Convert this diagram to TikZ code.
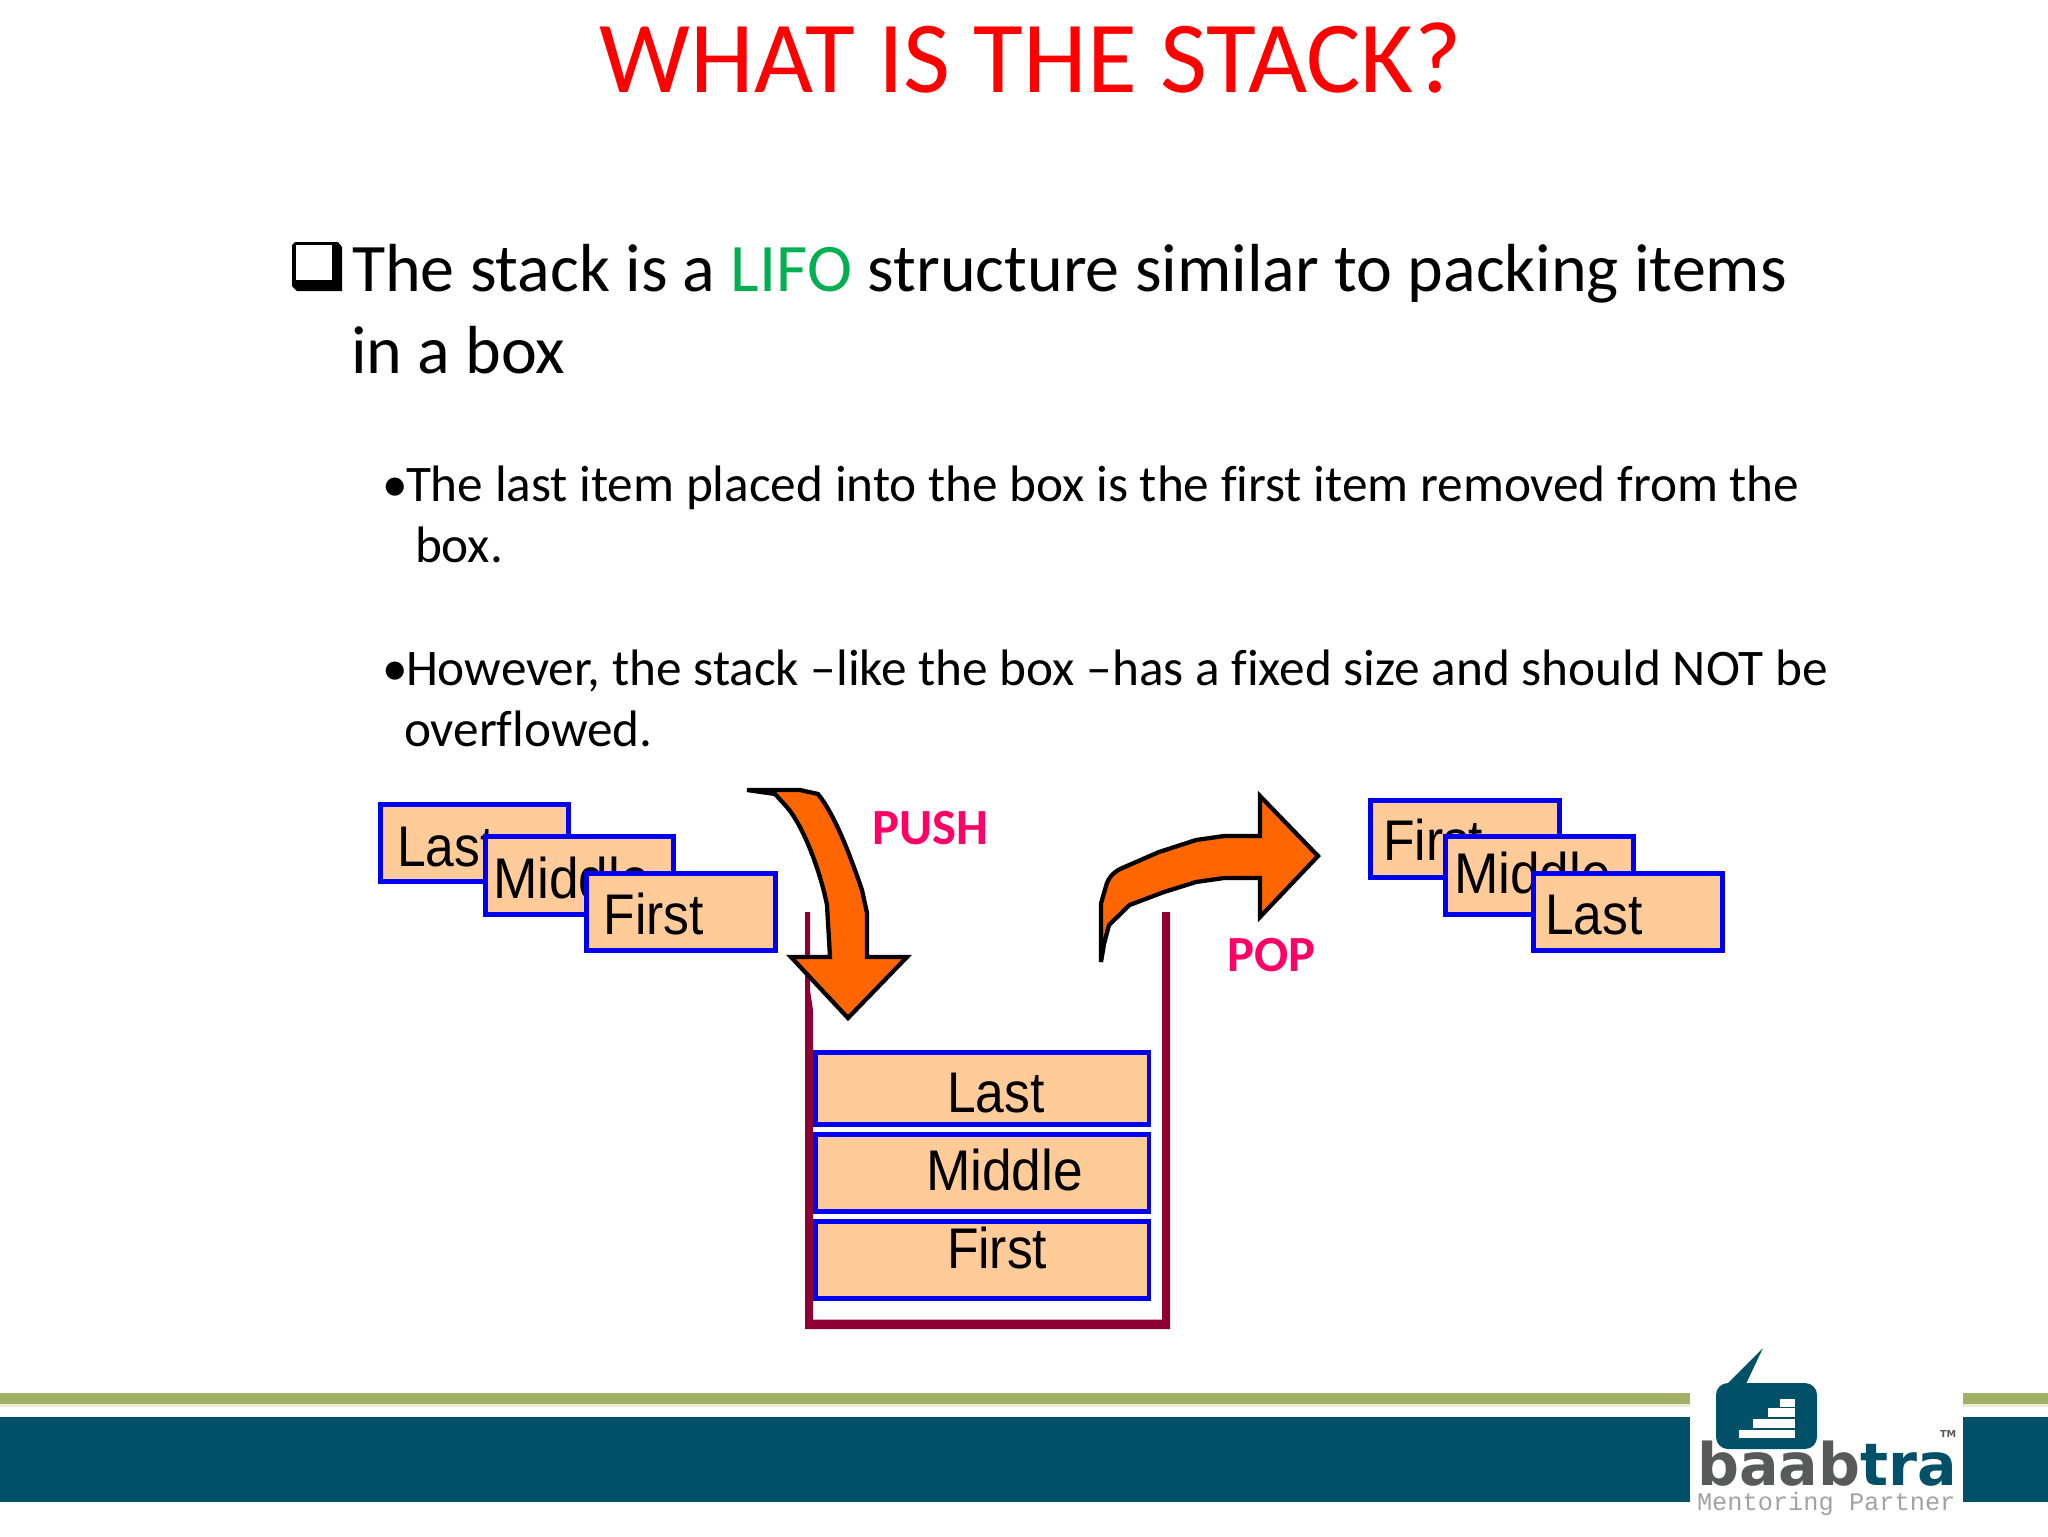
\documentclass[tikz,border=0pt]{standalone}
\usepackage{fontspec}
\setmainfont[Ligatures=NoCommon]{Carlito}
\newfontfamily\boxfont{Liberation Sans}
\newfontfamily\logofont{DejaVu Sans}
\newfontfamily\logomono{Liberation Mono}
\definecolor{titlered}{HTML}{FF0000}
\definecolor{lifogreen}{HTML}{00B050}
\definecolor{labelpink}{HTML}{FF0066}
\definecolor{itemfill}{HTML}{FFCC99}
\definecolor{itemblue}{HTML}{0000F0}
\definecolor{wallred}{HTML}{8E0033}
\definecolor{arroworange}{HTML}{FF6600}
\definecolor{bandgreen}{HTML}{A0B166}
\definecolor{bandpale}{HTML}{E9ECCF}
\definecolor{bandteal}{HTML}{005068}
\definecolor{logogrey}{HTML}{58595B}
\definecolor{mentorgrey}{HTML}{A3A3A3}
\tikzset{
  plain/.style={inner sep=0pt,outer sep=0pt,anchor=base west},
  titletext/.style={plain,anchor=base,text=titlered,font=\fontsize{38.3}{42}\selectfont},
  bodybig/.style={plain,font=\fontsize{25.5}{28}\selectfont},
  bodysmall/.style={plain,font=\fontsize{19.23}{24}\selectfont},
  pushpop/.style={plain,anchor=base,text=labelpink,font=\bfseries\fontsize{19}{20}\selectfont},
  itembox/.style={draw=itemblue,fill=itemfill,line width=1.8pt,inner sep=0pt,outer sep=0pt,minimum width=70.7pt,minimum height=29pt},
  stackbox/.style={itembox,minimum width=125.1pt,minimum height=29pt},
  itemtext/.style={plain,font=\boxfont\fontsize{21.5}{24}\selectfont},
  bigarrow/.style={draw=black,fill=arroworange,line width=1.6pt,line join=miter},
}
\newcommand{\itemlabel}[1]{\scalebox{0.9}[1]{#1}}
\newcommand{\itemwide}[1]{\scalebox{0.93}[1]{#1}}
\begin{document}
\begin{tikzpicture}[x=0.375pt,y=-0.375pt]
\useasboundingbox (0,0) rectangle (2048,1536);
\fill[white] (0,0) rectangle (2048,1536);

% title and text
\node[titletext] (title) at (1030.5,92) {WHAT IS THE STACK?};

\fill[black] (292,245) -- (295,242) -- (338,242) -- (342,247) -- (342,291) -- (297,291) -- (292,286) -- cycle;
\fill[white] (296,245) rectangle (332,280);
\node[bodybig] (l1a) at (352,291) {The stack is a \textcolor{lifogreen}{LIFO} structure similar to packing items};
\node[bodybig] (l1b) at (351,373) {in a box};

\node[bodysmall,anchor=base east] (b2) at (408,501) {•};
\node[bodysmall] (l2a) at (406,501) {The last item placed into the box is the first item removed from the};
\node[bodysmall] (l2b) at (415,562) {box.};
\node[bodysmall,anchor=base east] (b3) at (408,685) {•};
\node[bodysmall] (l3a) at (406,685) {However, the stack –like the box –has a fixed size and should NOT be};
\node[bodysmall] (l3b) at (404,746) {overflowed.};

% stack walls
\fill[wallred] (805,912) -- (810,912) -- (810,990) -- (813,1010) -- (813,1319.5) -- (1162,1319.5) -- (1162,912) -- (1170,912) -- (1170,1329) -- (805,1329) -- cycle;

% left group
\node[itembox] (leftlast) at (474.5,843) {};
\node[itemtext] (leftlasttext) at (397,866) {\itemlabel{Last}};
\node[itembox] (leftmiddle) at (579.5,875.5) {};
\node[itemtext] (leftmiddletext) at (493,898) {\itemwide{Middle}};
\node[itembox] (leftfirst) at (681,912) {};
\node[itemtext] (leftfirsttext) at (603.5,934) {\itemlabel{First}};

% right group
\node[itembox] (rightfirst) at (1465,839) {};
\node[itemtext] (rightfirsttext) at (1383,860) {\itemlabel{First}};
\node[itembox] (rightmiddle) at (1539.5,875.5) {};
\node[itemtext] (rightmiddletext) at (1454,893) {\itemwide{Middle}};
\node[itembox] (rightlast) at (1628,912) {};
\node[itemtext] (rightlasttext) at (1545,934) {\itemlabel{Last}};

% stacked items
\node[stackbox,minimum height=27.2pt] (stacklast) at (982.1,1088.5) {};
\node[itemtext] (stacklasttext) at (947,1112) {\itemlabel{Last}};
\node[stackbox] (stackmiddle) at (982.1,1173) {};
\node[itemtext] (stackmiddletext) at (926,1190.5) {\itemwide{Middle}};
\node[stackbox] (stackfirst) at (982.1,1260) {};
\node[itemtext] (stackfirsttext) at (947,1268) {\itemlabel{First}};

% push arrow
\draw[bigarrow] (747,790) -- (800,790) -- (818,794)
  .. controls (835,815) and (850,855) .. (862,890)
  -- (867,913) -- (867,957) -- (907,957) -- (848,1018) -- (791,957) -- (830,957) -- (827,905)
  .. controls (820,870) and (803,825) .. (786,806)
  -- (775,794) -- cycle;

% pop arrow
\draw[bigarrow] (1101,962) -- (1101,903.5) -- (1106.6,884)
  .. controls (1110,875) and (1115,872) .. (1120,869)
  -- (1159,852) -- (1196,840) -- (1224,836) -- (1260,836) -- (1260,796) -- (1318,856) -- (1260,917) -- (1260,878) -- (1224,878) -- (1196,882) -- (1164,892) -- (1129.5,905) -- (1109,925) -- (1104,944) -- cycle;

\node[pushpop] (push) at (930.5,844) {PUSH};
\node[pushpop] (pop) at (1271.5,971) {POP};

% bottom bands
\fill[bandgreen] (0,1393) rectangle (1690,1404);
\fill[bandgreen] (1963,1393) rectangle (2048,1404);
\fill[bandpale] (0,1404) rectangle (1690,1407);
\fill[bandpale] (1963,1404) rectangle (2048,1407);
\fill[bandteal] (0,1417) rectangle (1690,1502);
\fill[bandteal] (1963,1417) rectangle (2048,1502);

% logo
\fill[bandteal,rounded corners=12pt*0.375] (1716,1383) rectangle (1817,1449);
\fill[bandteal] (1717,1394) -- (1763,1348) -- (1745,1386) -- cycle;
\fill[white] (1739,1430) rectangle (1795,1438);
\fill[white] (1753,1419) rectangle (1795,1428);
\fill[white] (1768,1408) rectangle (1795,1417);
\fill[white] (1780,1399) rectangle (1795,1407);
\node[plain,font=\logofont\bfseries\fontsize{22}{24}\selectfont,text=logogrey] (logoname) at (1697,1485) {baab\textcolor{bandteal}{tra}};
\node[plain,font=\logofont\bfseries\fontsize{3.6}{4}\selectfont,text=logogrey] (logotm) at (1940,1437) {TM};
\node[plain,font=\logomono\fontsize{9.5}{10}\selectfont,text=mentorgrey] (logotag) at (1697,1510) {Mentoring Partner};
\end{tikzpicture}
\end{document}
